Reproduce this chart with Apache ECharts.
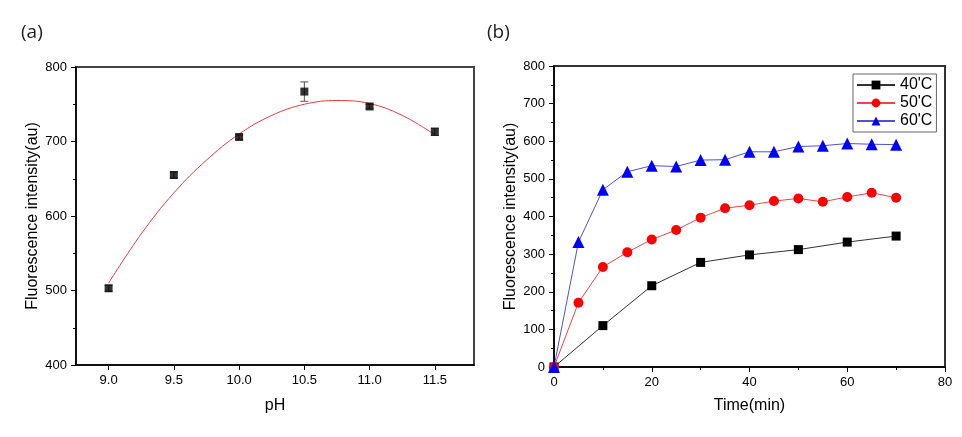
<!DOCTYPE html>
<html><head><meta charset="utf-8">
<script src="https://cdn.jsdelivr.net/npm/echarts@6/dist/echarts.min.js"></script>
<style>html,body{margin:0;padding:0;background:#fff}#c{width:962px;height:437px}</style>
</head><body><div id="c"></div>
<script>
// Panel (a): pH
const phX = [9.0, 9.5, 10.0, 10.5, 11.0, 11.5];
const phY = [503, 655, 706, 767, 747, 713];
const phErr = [4, 4, 3, 13, 3, 5];
const fitX = [9.0, 9.25, 9.5, 9.75, 10.0, 10.25, 10.5, 10.75, 11.0, 11.25, 11.5];
const fitY = [510, 576, 631, 675, 710, 735, 750, 755, 751, 735, 709];
const phTicks = [9.0, 9.5, 10.0, 10.5, 11.0, 11.5];

// Panel (b): time
const t40 = [0, 10, 20, 30, 40, 50, 60, 70];
const y40 = [0, 110, 216, 278, 298, 312, 332, 348];
const t5 = [0, 5, 10, 15, 20, 25, 30, 35, 40, 45, 50, 55, 60, 65, 70];
const y50 = [0, 171, 266, 305, 339, 364, 397, 422, 430, 441, 448, 439, 452, 463, 450];
const y60 = [0, 332, 471, 519, 535, 533, 550, 551, 572, 572, 586, 588, 594, 592, 591];
const names = ["40'C", "50'C", "60'C"];

const F = "'Liberation Sans', Arial, sans-serif";
const zip = (a, b) => a.map((v, i) => [v, b[i]]);

const chart = echarts.init(document.getElementById('c'));
const axisCommon = {
  axisLine: {show: true, lineStyle: {color: '#000', width: 1.5}},
  axisTick: {show: true, inside: false, length: 5, lineStyle: {color: '#000', width: 1}},
  minorTick: {show: true, splitNumber: 2, length: 3, lineStyle: {color: '#000', width: 1}},
  splitLine: {show: false},
  axisLabel: {color: '#000', fontSize: 13, fontFamily: F, margin: 9},
  nameTextStyle: {color: '#000', fontSize: 16, fontFamily: F},
  nameLocation: 'middle'
};
chart.setOption({
  animation: false,
  title: [
    {text: '(a)', left: 16, top: 18, textStyle: {fontSize: 19, fontWeight: 'normal', color: '#1b1b2b', fontFamily: "'Open Sans', sans-serif"}},
    {text: '(b)', left: 482, top: 18, textStyle: {fontSize: 19, fontWeight: 'normal', color: '#1b1b2b', fontFamily: "'Open Sans', sans-serif"}}
  ],
  grid: [
    {left: 76, top: 67, right: 488, bottom: 72, show: true, borderColor: '#444', borderWidth: 2, backgroundColor: 'transparent'},
    {left: 554, top: 66, right: 17, bottom: 70, show: true, borderColor: '#333', borderWidth: 2, backgroundColor: 'transparent'}
  ],
  xAxis: [
    Object.assign({}, axisCommon, {gridIndex: 0, type: 'value', min: 8.75, max: 11.8, name: 'pH', nameGap: 33,
      axisLabel: Object.assign({}, axisCommon.axisLabel, {customValues: phTicks, formatter: v => v.toFixed(1)}),
      axisTick: Object.assign({}, axisCommon.axisTick, {customValues: phTicks}),
      minorTick: {show: false}}),
    Object.assign({}, axisCommon, {gridIndex: 1, type: 'value', min: 0, max: 80, interval: 20, name: 'Time(min)', nameGap: 31})
  ],
  yAxis: [
    Object.assign({}, axisCommon, {gridIndex: 0, type: 'value', min: 400, max: 800, interval: 100, name: 'Fluorescence intensity(au)', nameGap: 35}),
    Object.assign({}, axisCommon, {gridIndex: 1, type: 'value', min: 0, max: 800, interval: 100, name: 'Fluorescence intensity(au)', nameGap: 35})
  ],
  legend: {
    data: names, orient: 'vertical', left: 853, top: 74, width: 88,
    borderColor: '#666', borderWidth: 1, padding: [3, 4, 3, 3], itemGap: 2,
    itemWidth: 38, itemHeight: 11,
    textStyle: {fontSize: 16, fontFamily: F, color: '#000'}
  },
  series: [
    {type: 'line', xAxisIndex: 0, yAxisIndex: 0, data: zip(fitX, fitY), smooth: 0.4, showSymbol: false,
      lineStyle: {color: '#e8393a', width: 1}, z: 2},
    {type: 'custom', xAxisIndex: 0, yAxisIndex: 0, z: 3,
      data: phX.map((x, i) => [x, phY[i] - phErr[i], phY[i] + phErr[i]]),
      encode: {x: 0, y: [1, 2]},
      renderItem: function (params, api) {
        const x = api.value(0), lo = api.value(1), hi = api.value(2);
        const a = api.coord([x, hi]), b = api.coord([x, lo]);
        const w = 4, st = {stroke: '#555', lineWidth: 1};
        return {type: 'group', children: [
          {type: 'line', shape: {x1: a[0], y1: a[1], x2: b[0], y2: b[1]}, style: st},
          {type: 'line', shape: {x1: a[0] - w, y1: a[1], x2: a[0] + w, y2: a[1]}, style: st},
          {type: 'line', shape: {x1: b[0] - w, y1: b[1], x2: b[0] + w, y2: b[1]}, style: st}
        ]};
      }},
    {type: 'scatter', xAxisIndex: 0, yAxisIndex: 0, data: zip(phX, phY), symbol: 'rect', symbolSize: 8,
      itemStyle: {color: '#000'}, z: 4},
    {name: names[0], type: 'line', xAxisIndex: 1, yAxisIndex: 1, data: zip(t40, y40), symbol: 'rect', symbolSize: 9,
      itemStyle: {color: '#000'}, lineStyle: {color: '#333', width: 1}},
    {name: names[1], type: 'line', xAxisIndex: 1, yAxisIndex: 1, data: zip(t5, y50), symbol: 'circle', symbolSize: 10,
      itemStyle: {color: '#ff0000'}, lineStyle: {color: '#f04545', width: 1}},
    {name: names[2], type: 'line', xAxisIndex: 1, yAxisIndex: 1, data: zip(t5, y60), symbol: 'triangle', symbolSize: 12,
      itemStyle: {color: '#0000ff'}, lineStyle: {color: '#5050d8', width: 1}}
  ]
});
</script></body></html>
